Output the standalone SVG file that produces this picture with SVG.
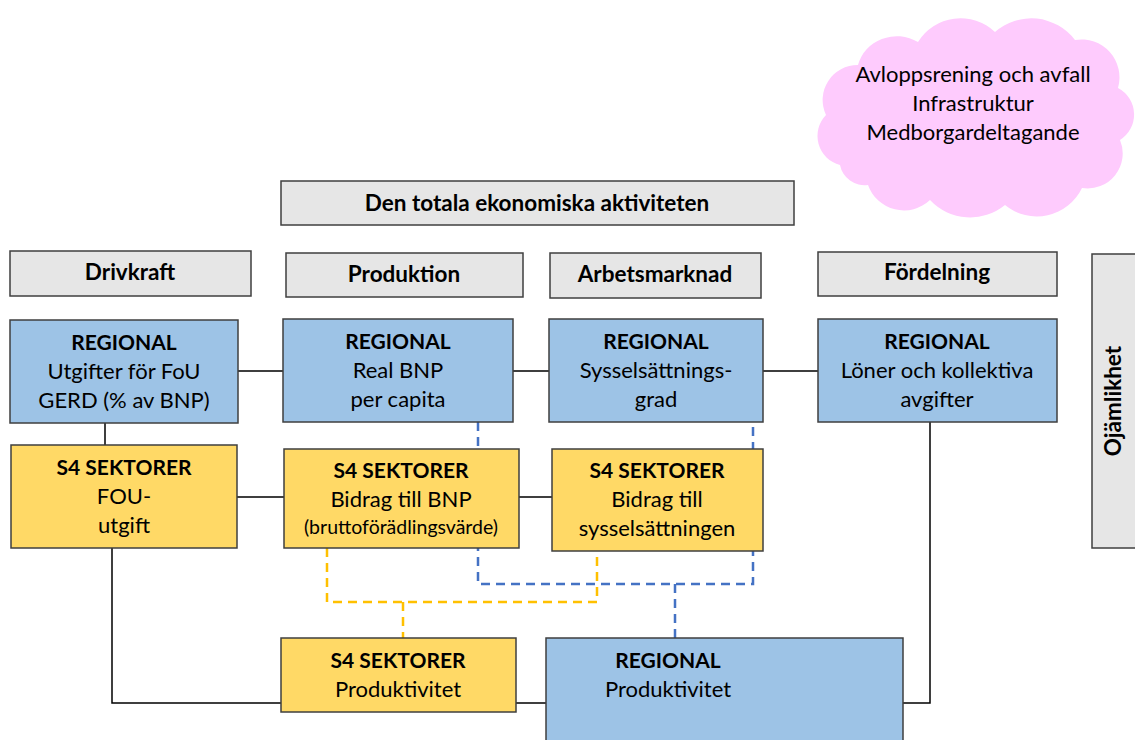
<svg xmlns="http://www.w3.org/2000/svg" width="1135" height="740" viewBox="0 0 1135 740">
<style>
.g{fill:#e6e6e6;stroke:#3f3f3f;stroke-width:1.5}
.b{fill:#9dc3e6;stroke:#3f3f3f;stroke-width:1.5}
.y{fill:#ffd966;stroke:#3f3f3f;stroke-width:1.5}
text{font-family:Lato,"Open Sans",sans-serif;fill:#000;text-anchor:middle}
.h{font-weight:bold;font-size:22.5px}
.t{font-weight:bold;font-size:21px}
.n{font-size:22px}
.s{font-size:19.5px}
.k{fill:none;stroke:#000;stroke-width:1.5}
.db{fill:none;stroke:#4472c4;stroke-width:2.5;stroke-dasharray:9 6}
.dy{fill:none;stroke:#ffc000;stroke-width:2.5;stroke-dasharray:9 6}
</style>
<g id="connectors">
<path class="k" d="M238 371H283M513 371H549M763 371H818M105 423V445M237 497H284M519 497H552M112 548V703H281M516 703H546M903 703H930V422"/>
<path class="db" d="M478 422V584H753V422M675 584V638"/>
<path class="dy" d="M327 548V602H597V551M403 602V638"/>
</g>
<g id="cloud">
<path fill="#fecbfd" d="M840 165A30 30 0 0 1 826 115A35 35 0 0 1 858 65A40 38 0 0 1 918 42A50 50 0 0 1 995 32A55 55 0 0 1 1075 40A38 38 0 0 1 1118 88A30 30 0 0 1 1120 140A35 35 0 0 1 1082 188A50 50 0 0 1 1005 205A55 55 0 0 1 930 200A38 38 0 0 1 868 185A25 25 0 0 1 840 165Z"/>
<text class="n" x="973" y="82">Avloppsrening och avfall</text>
<text class="n" x="973" y="111">Infrastruktur</text>
<text class="n" x="973" y="140">Medborgardeltagande</text>
</g>
<g id="total"><rect class="g" x="281" y="181" width="513" height="44"/><text class="h" x="537" y="211">Den totala ekonomiska aktiviteten</text></g>
<g id="drivkraft"><rect class="g" x="10" y="251" width="241" height="45"/><text class="h" x="130" y="280">Drivkraft</text></g>
<g id="produktion"><rect class="g" x="286" y="253" width="237" height="44"/><text class="h" x="404" y="282">Produktion</text></g>
<g id="arbetsmarknad"><rect class="g" x="550" y="253" width="211" height="45"/><text class="h" x="655" y="282">Arbetsmarknad</text></g>
<g id="fordelning"><rect class="g" x="818" y="252" width="239" height="44"/><text class="h" x="937" y="280">Fördelning</text></g>
<g id="ojamlikhet"><rect class="g" x="1092" y="254" width="50" height="294"/><text class="h" transform="translate(1121 401) rotate(-90)">Ojämlikhet</text></g>
<g id="reg1"><rect class="b" x="10" y="320" width="228" height="103"/><text class="t" x="124" y="350">REGIONAL</text><text class="n" x="124" y="379">Utgifter för FoU</text><text class="n" x="124" y="408">GERD (% av BNP)</text></g>
<g id="reg2"><rect class="b" x="283" y="319" width="230" height="103"/><text class="t" x="398" y="349">REGIONAL</text><text class="n" x="398" y="378">Real BNP</text><text class="n" x="398" y="407">per capita</text></g>
<g id="reg3"><rect class="b" x="549" y="319" width="214" height="103"/><text class="t" x="656" y="349">REGIONAL</text><text class="n" x="656" y="378">Sysselsättnings-</text><text class="n" x="656" y="407">grad</text></g>
<g id="reg4"><rect class="b" x="818" y="319" width="239" height="103"/><text class="t" x="937" y="349">REGIONAL</text><text class="n" x="937" y="378">Löner och kollektiva</text><text class="n" x="937" y="407">avgifter</text></g>
<g id="s4a"><rect class="y" x="11" y="445" width="226" height="103"/><text class="t" x="124" y="475">S4 SEKTORER</text><text class="n" x="124" y="504">FOU-</text><text class="n" x="124" y="533">utgift</text></g>
<g id="s4b"><rect class="y" x="284" y="449" width="235" height="99"/><text class="t" x="401" y="478">S4 SEKTORER</text><text class="n" x="401" y="507">Bidrag till BNP</text><text class="s" x="401" y="534">(bruttoförädlingsvärde)</text></g>
<g id="s4c"><rect class="y" x="552" y="449" width="211" height="102"/><text class="t" x="657" y="478">S4 SEKTORER</text><text class="n" x="657" y="507">Bidrag till</text><text class="n" x="657" y="536">sysselsättningen</text></g>
<g id="s4prod"><rect class="y" x="281" y="638" width="235" height="74"/><text class="t" x="398" y="668">S4 SEKTORER</text><text class="n" x="398" y="697">Produktivitet</text></g>
<g id="regprod"><rect class="b" x="546" y="638" width="357" height="110"/><text class="t" x="668" y="668">REGIONAL</text><text class="n" x="668" y="697">Produktivitet</text></g>
</svg>
